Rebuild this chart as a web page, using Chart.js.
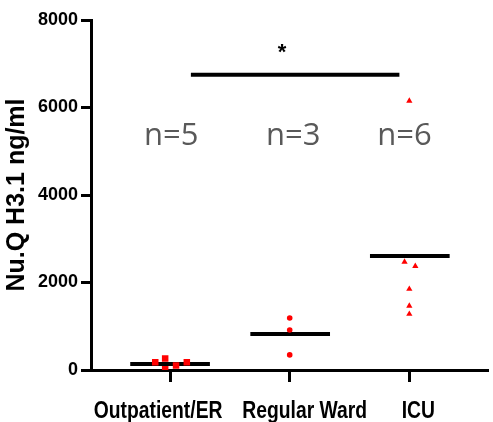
<!DOCTYPE html>
<html>
<head>
<meta charset="utf-8">
<script src="https://cdn.jsdelivr.net/npm/chart.js@4/dist/chart.umd.min.js"></script>
<style>
html,body{margin:0;padding:0;background:#fff;}
canvas{display:block;}
</style>
</head>
<body>
<canvas id="c" width="493" height="422"></canvas>
<script>
// ---- data ----
const categories = ['Outpatient/ER', 'Regular Ward', 'ICU'];
const outpatientValues = [175, 265, 15, 105, 175];
const outpatientJitter = [-0.124, -0.041, -0.041, 0.05, 0.14];
const wardValues = [1190, 915, 345];
const wardJitter = [0, 0, 0];
const icuValues = [6150, 2470, 2375, 1850, 1465, 1280];
const icuJitter = [0, -0.04, 0.05, 0, 0, 0];
const groupMeans = [140, 825, 2605];
const groupCounts = ['n=5', 'n=3', 'n=6'];
const yTicks = [0, 2000, 4000, 6000, 8000];
const sigBar = { from: 0.174, to: 1.917, y: 6750, label: '*' };

// ---- styles ----
const RED = '#ff0000';
const meanHalfWidth = 0.333;
const meanCenterShift = [0, 0.004, 0.004];
const xLabelShift = [-12, 15, 9];
const xLabelSqueeze = 0.84;
const nLabelX = [0.01, 1.03, 1.96];
const nLabelBaseline = 5143;

function pts(vals, jit, idx) {
  return vals.map((v, i) => ({ x: idx + jit[i], y: v }));
}
function meanLine(i) {
  const c = i + meanCenterShift[i];
  return {
    type: 'line',
    data: [{ x: c - meanHalfWidth, y: groupMeans[i] }, { x: c + meanHalfWidth, y: groupMeans[i] }],
    borderColor: '#000', borderWidth: 4, pointRadius: 0, showLine: true, fill: false
  };
}

const overlay = {
  id: 'overlay',
  afterDraw(chart) {
    const ctx = chart.ctx;
    const xs = chart.scales.x, ys = chart.scales.y;
    ctx.save();
    // x category labels (condensed bold)
    ctx.fillStyle = '#000';
    ctx.font = 'bold 23px "Liberation Sans", Arial, sans-serif';
    ctx.textAlign = 'center';
    ctx.textBaseline = 'alphabetic';
    categories.forEach((c, i) => {
      const cx = xs.getPixelForValue(i) + xLabelShift[i];
      ctx.save();
      ctx.translate(cx, 418);
      ctx.scale(xLabelSqueeze, 1);
      ctx.fillText(c, 0, 0);
      ctx.restore();
    });
    // n labels
    ctx.fillStyle = '#595959';
    ctx.font = '31px "Open Sans", "Noto Sans", sans-serif';
    groupCounts.forEach((t, i) => {
      ctx.fillText(t, xs.getPixelForValue(nLabelX[i]), ys.getPixelForValue(nLabelBaseline));
    });
    // significance star
    ctx.fillStyle = '#000';
    ctx.font = 'bold 22px "Liberation Sans", Arial, sans-serif';
    const sx = xs.getPixelForValue((sigBar.from + sigBar.to) / 2) - 13;
    ctx.fillText(sigBar.label, sx, ys.getPixelForValue(sigBar.y) - 16);
    ctx.restore();
  }
};

new Chart(document.getElementById('c'), {
  type: 'scatter',
  data: {
    datasets: [
      { data: pts(outpatientValues, outpatientJitter, 0), pointStyle: 'rect', pointRadius: 4.6,
        backgroundColor: RED, borderWidth: 0 },
      { data: pts(wardValues, wardJitter, 1), pointStyle: 'circle', pointRadius: 2.8,
        backgroundColor: RED, borderWidth: 0 },
      { data: pts(icuValues, icuJitter, 2), pointStyle: 'triangle', pointRadius: 3.6,
        backgroundColor: RED, borderWidth: 0 },
      meanLine(0), meanLine(1), meanLine(2),
      { type: 'line', data: [{ x: sigBar.from, y: sigBar.y }, { x: sigBar.to, y: sigBar.y }],
        borderColor: '#000', borderWidth: 4, pointRadius: 0, showLine: true, fill: false }
    ]
  },
  options: {
    responsive: false,
    animation: false,
    layout: { padding: { top: 20, left: 0, right: 0, bottom: 0 } },
    plugins: { legend: { display: false }, tooltip: { enabled: false } },
    scales: {
      x: {
        type: 'linear', min: -0.661, max: 2.661,
        afterBuildTicks(s) { s.ticks = categories.map((c, i) => ({ value: i })); },
        afterFit(s) { s.height = 52; },
        ticks: { display: false },
        grid: { drawOnChartArea: false, drawTicks: true, tickLength: 12, tickWidth: 3, tickColor: '#000' },
        border: { color: '#000', width: 3 }
      },
      y: {
        min: 0, max: 8000,
        afterBuildTicks(s) { s.ticks = yTicks.map(v => ({ value: v })); },
        afterFit(s) { s.width = 91; },
        ticks: { color: '#000', padding: 3, callback: v => String(v),
          font: { family: '"Liberation Sans", Arial, sans-serif', weight: 'bold', size: 18 } },
        grid: { drawOnChartArea: false, drawTicks: true, tickLength: 10, tickWidth: 3, tickColor: '#000' },
        border: { color: '#000', width: 3 },
        title: { display: true, text: 'Nu.Q H3.1 ng/ml', color: '#000', padding: { top: 2, bottom: 0 },
          font: { family: '"Liberation Sans", Arial, sans-serif', weight: 'bold', size: 25 } }
      }
    }
  },
  plugins: [overlay]
});
</script>
</body>
</html>
